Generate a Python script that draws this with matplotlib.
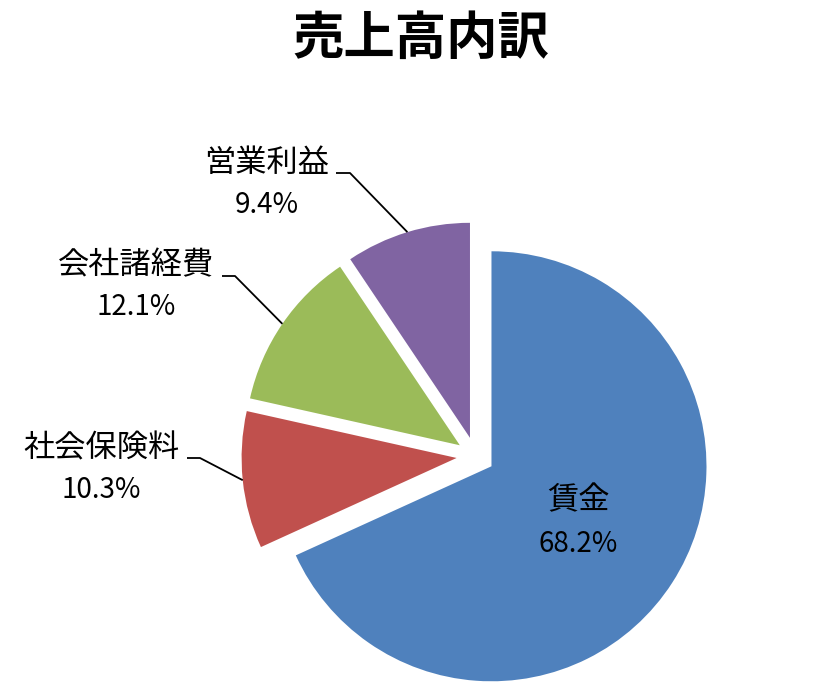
import numpy as np
import matplotlib
matplotlib.use('Agg')
import matplotlib.pyplot as plt

plt.rcParams['font.family'] = ['Noto Sans CJK JP', 'DejaVu Sans']

categories = ['賃金', '社会保険料', '会社諸経費', '営業利益']
shares = [68.2, 10.3, 12.1, 9.4]
colors = ['#4F81BD', '#C0504D', '#9BBB59', '#8064A2']

W, H = 815, 688
fig = plt.figure(figsize=(W / 100, H / 100), dpi=100)
ax = fig.add_axes([0, 0, 1, 1])

center = (475.5, H - 456)
radius = 215
wedges, _ = ax.pie(shares, colors=colors, startangle=90, counterclock=False,
                   center=center, radius=radius, explode=[19] * len(shares),
                   wedgeprops=dict(linewidth=0))

ax.set_xlim(0, W)
ax.set_ylim(0, H)
ax.set_aspect('equal')
ax.axis('off')

# outside label positions (pixels from top-left) and elbow of leader line
label_pos = {1: (101, 448), 2: (136, 265), 3: (267, 163)}
elbow_pos = {1: (187, 200, 458), 2: (222, 235, 276), 3: (336, 350, 173)}

for i, w in enumerate(wedges):
    mid = np.deg2rad((w.theta1 + w.theta2) / 2)
    cx, cy = w.center
    if i == 0:
        px = cx + radius * 0.48 * np.cos(mid)
        py = cy + radius * 0.48 * np.sin(mid)
        ax.text(px, py + 22, categories[i], ha='center', va='center', fontsize=22.5)
        ax.text(px, py - 22, f'{shares[i]:.1f}%', ha='center', va='center', fontsize=20)
        continue
    lx, ly = label_pos[i]
    ax.text(lx, H - ly, categories[i], ha='center', va='center', fontsize=22.5)
    ax.text(lx, H - ly - 42, f'{shares[i]:.1f}%', ha='center', va='center', fontsize=20)
    x0, x1, ey = elbow_pos[i]
    ex = cx + radius * np.cos(mid)
    ey2 = cy + radius * np.sin(mid)
    ax.plot([x0, x1, ex], [H - ey, H - ey, ey2], color='black', linewidth=1.3,
            solid_capstyle='butt')

fig.text(421 / W, 1 - 38 / H, '売上高内訳', ha='center', va='center',
         fontsize=37, fontweight='bold')

fig.savefig('out.png', dpi=100)
